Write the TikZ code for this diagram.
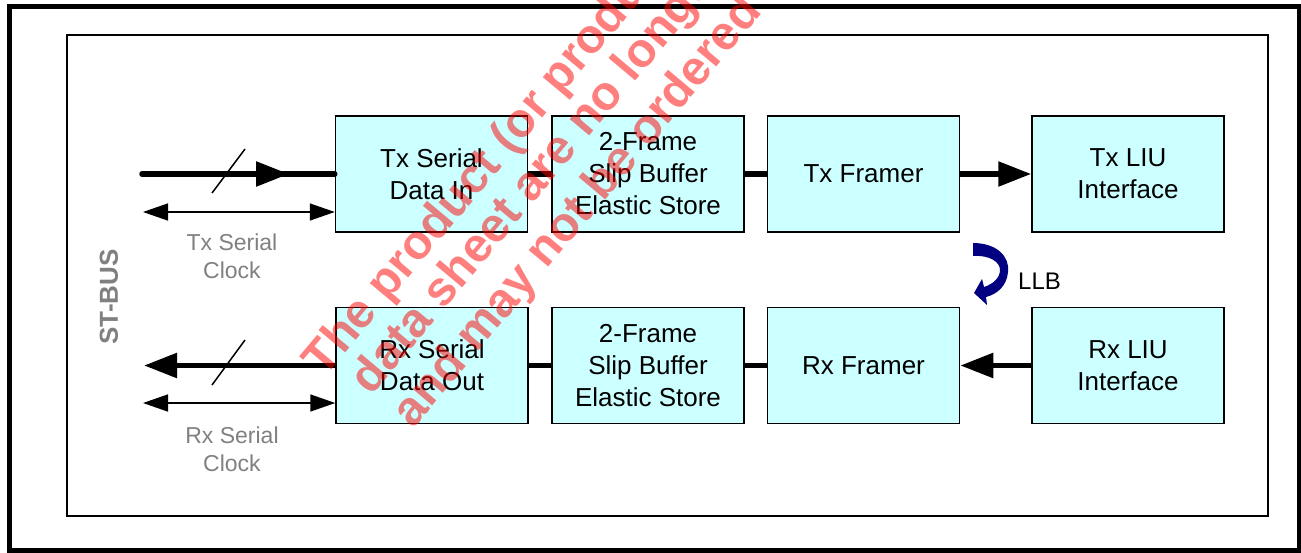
\documentclass[tikz,border=0pt]{standalone}
\usepackage{fontspec}
\setmainfont{Liberation Sans}
\usetikzlibrary{arrows.meta}
\definecolor{boxcyan}{RGB}{204,255,255}
\definecolor{llbnavy}{RGB}{0,0,128}
\definecolor{labelgray}{RGB}{128,128,128}
\begin{document}
\begin{tikzpicture}[x=1pt, y=-1pt,
  blk/.style={draw, line width=1.5pt, fill=boxcyan, minimum width=192pt, minimum height=116pt,
    inner sep=0pt, align=center, font=\fontsize{26}{32}\selectfont},
  bus/.style={line width=5.5pt},
  big/.style={-{Triangle[length=33pt,width=24pt]}},
  clk/.style={line width=1.5pt, {Triangle[length=25pt,width=17pt]}-{Triangle[length=25pt,width=17pt]}},
  slash/.style={line width=1.5pt},
  lbl/.style={text=labelgray, align=center, font=\fontsize{23}{28}\selectfont},
  wm/.style={text=red, text opacity=0.5, rotate=50, anchor=base west,
    font=\fontsize{48}{56}\selectfont\bfseries}]
  \useasboundingbox (0,0) rectangle (1301,552);
  % frames
  \draw[line width=5pt] (9.5,6.5) rectangle (1299,550);
  \draw[line width=1.5pt] (67,35) rectangle (1268,516);
  % transmit row
  \node[blk] (txin) at (431.5,174) {Tx Serial\\Data In};
  \node[blk] (txslip) at (648,174) {2-Frame\\Slip Buffer\\Elastic Store};
  \node[blk] (txfr) at (863.5,174) {Tx Framer};
  \node[blk] (txliu) at (1128,174) {Tx LIU\\Interface};
  % receive row
  \node[blk] (rxin) at (432,365.5) {Rx Serial\\Data Out};
  \node[blk] (rxslip) at (648,365.5) {2-Frame\\Slip Buffer\\Elastic Store};
  \node[blk] (rxfr) at (863.5,365.5) {Rx Framer};
  \node[blk] (rxliu) at (1128,365.5) {Rx LIU\\Interface};
  % links between blocks
  \draw[bus] (txin) -- (txslip);
  \draw[bus] (txslip) -- (txfr);
  \draw[bus, big] (txfr) -- (txliu);
  \draw[bus] (rxin) -- (rxslip);
  \draw[bus] (rxslip) -- (rxfr);
  \draw[bus, big] (rxliu) -- (rxfr);
  % ST-BUS side
  \coordinate (txsrc) at (142,174);
  \coordinate (txtip) at (289,174);
  \coordinate (rxdst) at (144,365.5);
  \coordinate (txck) at (143,212);
  \coordinate (rxck) at (143,403);
  \draw[bus, line cap=round] (txsrc) -- (txin.west);
  \draw[bus, big] (txsrc) -- (txtip);
  \draw[bus, big] (rxin.west) -- (rxdst);
  \draw[slash] (212,193) -- (245,149);
  \draw[slash] (212,385) -- (245,340);
  \draw[clk] (txck) -- (txck -| txin.west);
  \draw[clk] (rxck) -- (rxck -| rxin.west);
  \node[lbl] (txcklbl) at (232,256) {Tx Serial\\Clock};
  \node[lbl] (rxcklbl) at (232,449) {Rx Serial\\Clock};
  \node[text=labelgray, rotate=90, font=\fontsize{26}{30}\selectfont\bfseries] (stbus) at (109,297) {ST-BUS};
  % loopback
  \fill[llbnavy] (973,243) .. controls (996,243) and (1010,256) .. (1008,272)
    .. controls (1007,285) and (998,294) .. (986,297) -- (987,305) -- (974,293) -- (982,279)
    -- (984,287) .. controls (993,284) and (1000,278) .. (1000,270)
    .. controls (1000,262) and (990,255) .. (973,256) -- cycle;
  \node[anchor=west, inner sep=0pt, font=\fontsize{24}{28}\selectfont] (llb) at (1018,281) {LLB};
  % watermark
  \begin{scope}
    \clip (0,0) rectangle (1301,552);
    \node[wm] (wm1) at (322,381) {The product (or product};
    \node[wm] (wm2) at (369,399) {data sheet are no longer};
    \node[wm] (wm3) at (411,432) {and may not be ordered};
  \end{scope}
\end{tikzpicture}
\end{document}
